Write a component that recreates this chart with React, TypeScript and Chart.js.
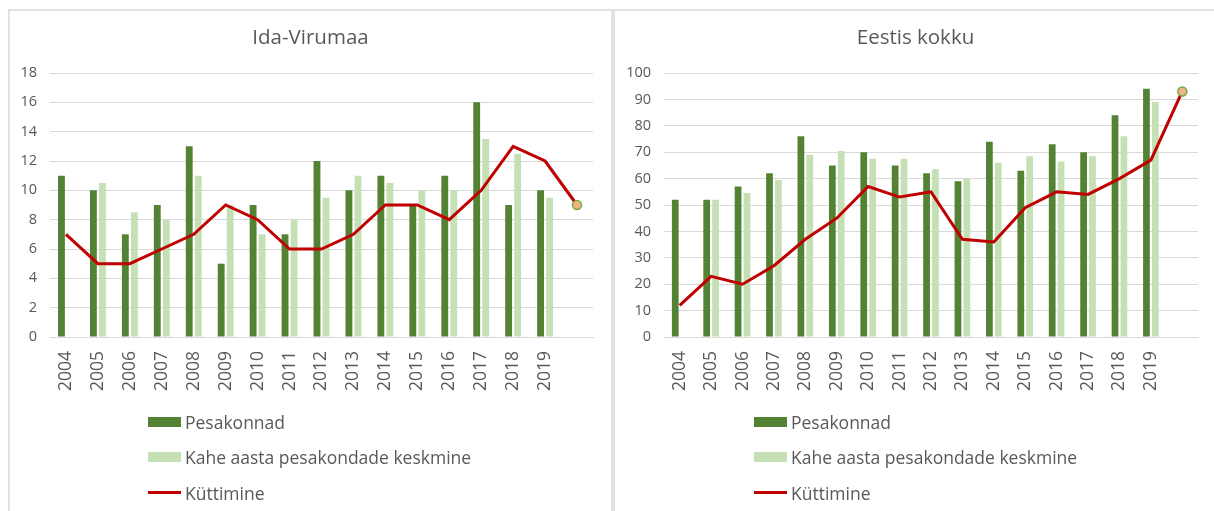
import React, { useEffect, useRef } from "react";
import { Chart, registerables } from "chart.js";

Chart.register(...registerables);

// ---- Data ----
const years = ["2004", "2005", "2006", "2007", "2008", "2009", "2010", "2011", "2012", "2013", "2014", "2015", "2016", "2017", "2018", "2019", ""];

const idaPesakonnad = [11, 10, 7, 9, 13, 5, 9, 7, 12, 10, 11, 9, 11, 16, 9, 10];
const idaKeskmine = [null, 10.5, 8.5, 8, 11, 9, 7, 8, 9.5, 11, 10.5, 10, 10, 13.5, 12.5, 9.5];
const idaKuttimine = [7, 5, 5, 6, 7, 9, 8, 6, 6, 7, 9, 9, 8, 10, 13, 12, 9];

const eestiPesakonnad = [52, 52, 57, 62, 76, 65, 70, 65, 62, 59, 74, 63, 73, 70, 84, 94];
const eestiKeskmine = [null, 52, 54.5, 59.5, 69, 70.5, 67.5, 67.5, 63.5, 60, 66, 68.5, 66.5, 68.5, 76, 89];
const eestiKuttimine = [12, 23, 20, 27, 37, 45, 57, 53, 55, 37, 36, 49, 55, 54, 60, 67, 93];

const seriesNames = ["Pesakonnad", "Kahe aasta pesakondade keskmine", "Küttimine"];

// ---- Styles ----
const DARK = "#548235";
const LIGHT = "#c5e0b4";
const RED = "#c00000";
const TEXT = "#595959";
const GRID = "#d9d9d9";
const FONT = '"Open Sans", "Noto Sans", sans-serif';

type PanelProps = {
  title: string;
  pesakonnad: (number | null)[];
  keskmine: (number | null)[];
  kuttimine: number[];
  yMax: number;
  yStep: number;
  yWidth: number;
  left: number;
  legendLeft: number;
};

function Panel(p: PanelProps) {
  const ref = useRef<HTMLCanvasElement | null>(null);

  useEffect(() => {
    if (!ref.current) return;
    const last = p.kuttimine.length - 1;
    const chart = new Chart(ref.current, {
      type: "bar",
      data: {
        labels: years,
        datasets: [
          {
            type: "line",
            label: seriesNames[2],
            data: p.kuttimine,
            borderColor: RED,
            backgroundColor: RED,
            borderWidth: 3,
            tension: 0,
            order: 0,
            pointRadius: (ctx: any) => (ctx.dataIndex === last ? 4.5 : 0),
            pointBackgroundColor: "#f4b183",
            pointBorderColor: "#70ad47",
            pointBorderWidth: 1.5,
          } as any,
          {
            type: "bar",
            label: seriesNames[0],
            data: p.pesakonnad,
            backgroundColor: DARK,
            order: 1,
            categoryPercentage: 0.565,
            barPercentage: 0.76,
          },
          {
            type: "bar",
            label: seriesNames[1],
            data: p.keskmine,
            backgroundColor: LIGHT,
            order: 2,
            categoryPercentage: 0.565,
            barPercentage: 0.76,
          },
        ],
      },
      options: {
        animation: false,
        responsive: false,
        devicePixelRatio: 1,
        layout: { padding: { top: 0, left: 8, right: 8, bottom: 0 } },
        plugins: {
          legend: { display: false },
          tooltip: { enabled: false },
          title: {
            display: true,
            text: p.title,
            color: TEXT,
            font: { family: FONT, size: 20.5, weight: "normal" },
            padding: { top: 15, bottom: 22.4 },
          },
        },
        scales: {
          x: {
            offset: true,
            grid: { display: false, drawTicks: false },
            border: { display: true, color: GRID, width: 1 },
            ticks: {
              minRotation: 90,
              maxRotation: 90,
              autoSkip: false,
              padding: 14,
              color: TEXT,
              font: { family: FONT, size: 17.5 },
            },
            afterFit: (s: any) => {
              s.height = 74;
              s.paddingRight = 18;
              s.paddingLeft = 0;
            },
          },
          y: {
            min: 0,
            max: p.yMax,
            ticks: {
              stepSize: p.yStep,
              padding: 13,
              color: TEXT,
              font: { family: FONT, size: 14.5 },
            },
            grid: { color: GRID, lineWidth: 1, drawTicks: false },
            border: { display: false },
            afterFit: (s: any) => {
              s.width = p.yWidth;
            },
          },
        },
      } as any,
    });
    return () => chart.destroy();
  }, []);

  const legendRow: React.CSSProperties = {
    display: "flex",
    alignItems: "center",
    height: 35.5,
    whiteSpace: "nowrap",
  };
  const textStyle: React.CSSProperties = {
    marginLeft: 4,
    fontFamily: FONT,
    fontSize: 17.5,
    color: TEXT,
  };

  return (
    <div
      style={{
        position: "absolute",
        left: p.left,
        top: 9,
        width: 605,
        height: 600,
        boxSizing: "border-box",
        border: `2px solid #e2e2e2`,
        background: "#fff",
      }}
    >
      <canvas ref={ref} width={601} height={400} style={{ position: "absolute", left: 0, top: 0, width: 601, height: 400 }} />
      <div style={{ position: "absolute", left: p.legendLeft, top: 393 }}>
        <div style={legendRow}>
          <div style={{ width: 33, height: 10, background: DARK }} />
          <span style={textStyle}>{seriesNames[0]}</span>
        </div>
        <div style={legendRow}>
          <div style={{ width: 33, height: 10, background: LIGHT }} />
          <span style={textStyle}>{seriesNames[1]}</span>
        </div>
        <div style={legendRow}>
          <div style={{ width: 33, height: 3, background: RED }} />
          <span style={textStyle}>{seriesNames[2]}</span>
        </div>
      </div>
    </div>
  );
}

export default function App() {
  return (
    <div
      style={{
        position: "fixed",
        left: 0,
        top: 0,
        width: 1214,
        height: 511,
        overflow: "hidden",
        background: "#fff",
      }}
    >
      <Panel
        title="Ida-Virumaa"
        pesakonnad={idaPesakonnad}
        keskmine={idaKeskmine}
        kuttimine={idaKuttimine}
        yMax={18}
        yStep={2}
        yWidth={32}
        left={8}
        legendLeft={138}
      />
      <Panel
        title="Eestis kokku"
        pesakonnad={eestiPesakonnad}
        keskmine={eestiKeskmine}
        kuttimine={eestiKuttimine}
        yMax={100}
        yStep={10}
        yWidth={41}
        left={613}
        legendLeft={139}
      />
    </div>
  );
}
